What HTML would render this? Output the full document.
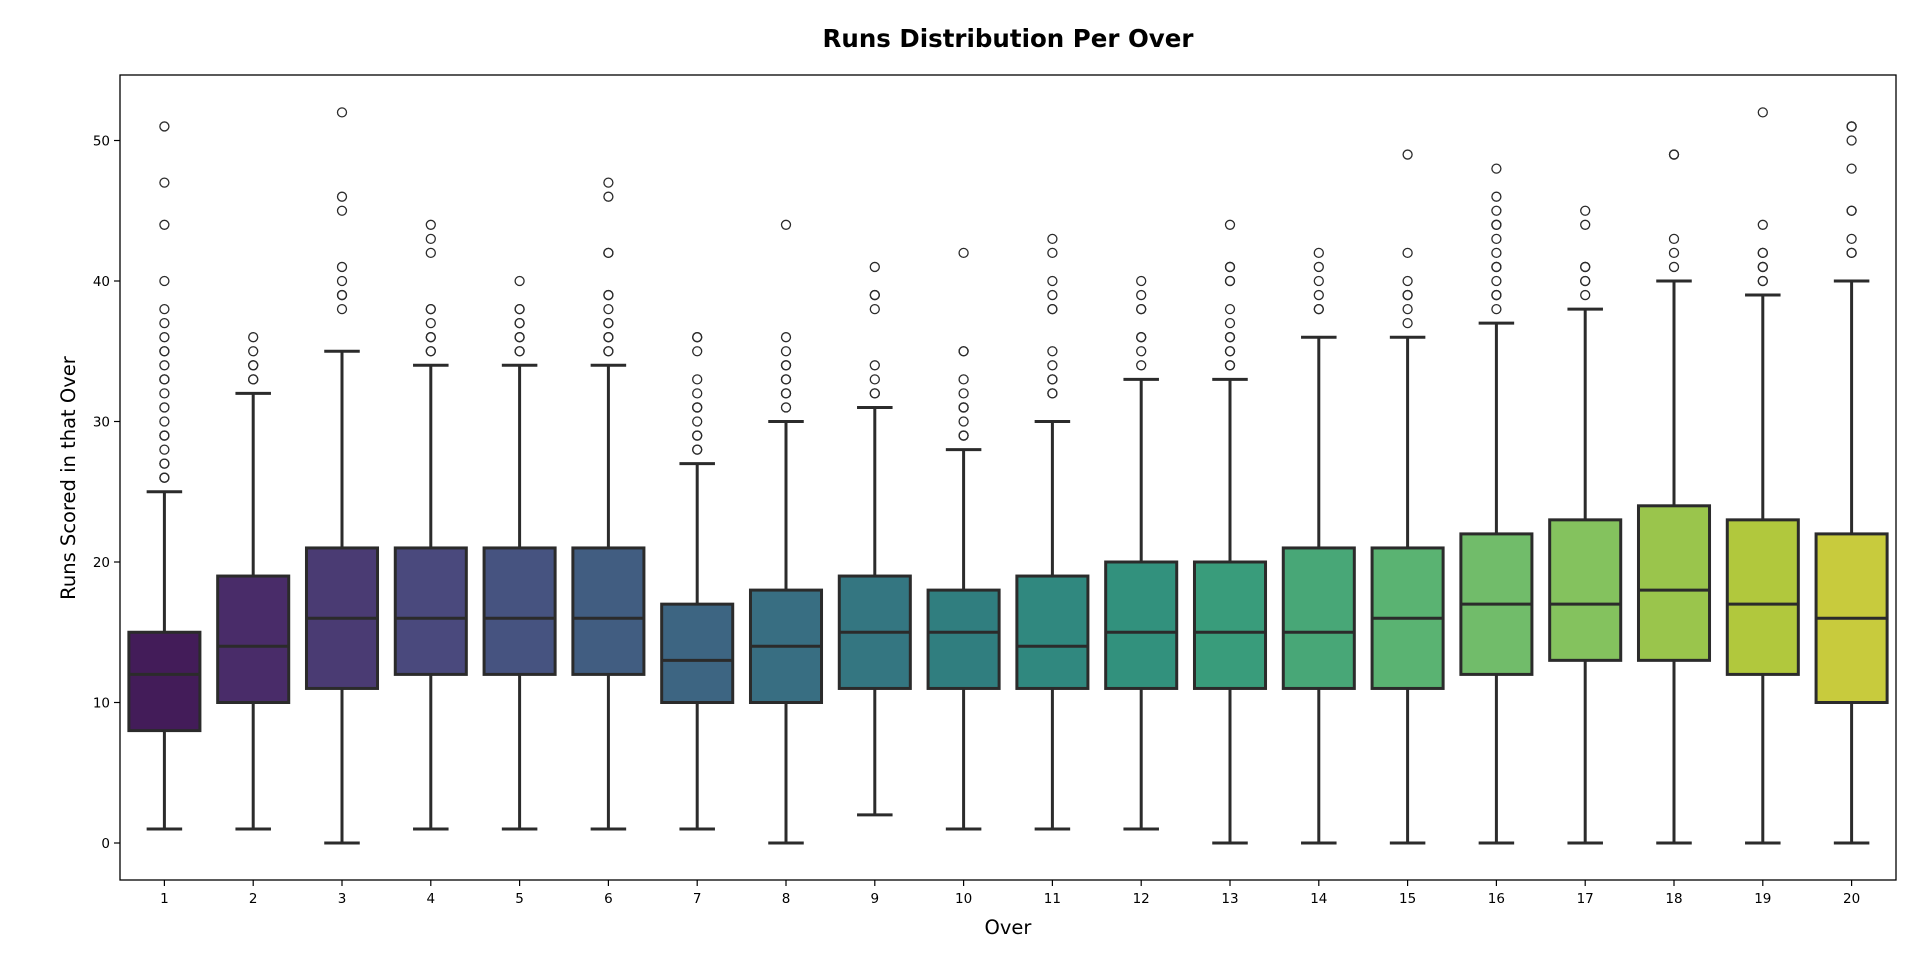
<!DOCTYPE html>
<html><head><meta charset="utf-8"><style>
html,body{margin:0;padding:0;background:#fff;}
svg{display:block;font-family:"DejaVu Sans","Liberation Sans",sans-serif;}
</style></head><body>
<svg id="chart" width="1920" height="967">
<text x="1008" y="47" text-anchor="middle" font-size="24.5" font-weight="bold">Runs Distribution Per Over</text>
<text x="1008" y="934" text-anchor="middle" font-size="19.5">Over</text>
<text transform="translate(75,478) rotate(-90)" text-anchor="middle" font-size="19.5">Runs Scored in that Over</text>
<g id="plot"></g>
<rect x="120" y="75" width="1776" height="805" fill="none" stroke="#000" stroke-width="1.3"/>
</svg>
<script>
const overs=[1,2,3,4,5,6,7,8,9,10,11,12,13,14,15,16,17,18,19,20];
const q1=[8,10,11,12,12,12,10,10,11,11,11,11,11,11,11,12,13,13,12,10];
const medians=[12,14,16,16,16,16,13,14,15,15,14,15,15,15,16,17,17,18,17,16];
const q3=[15,19,21,21,21,21,17,18,19,18,19,20,20,21,21,22,23,24,23,22];
const whiskerLow=[1,1,0,1,1,1,1,0,2,1,1,1,0,0,0,0,0,0,0,0];
const whiskerHigh=[25,32,35,34,34,34,27,30,31,28,30,33,33,36,36,37,38,40,39,40];
const outliers=[
[26,26,27,27,28,29,29,30,31,32,33,33,34,35,35,36,37,38,40,44,47,51],
[33,33,34,34,35,36],
[38,39,39,40,41,45,46,52],
[35,35,36,36,37,38,38,42,43,44],
[35,35,36,36,37,37,38,38,40],
[35,35,36,36,37,37,38,39,39,42,42,46,47],
[28,28,29,29,30,31,31,32,33,35,36,36],
[31,32,32,33,33,34,34,35,36,44],
[32,32,33,34,38,39,39,41],
[29,29,30,31,31,32,33,35,35,42],
[32,32,33,33,34,35,38,38,39,40,42,43],
[34,35,36,36,38,38,39,40],
[34,34,35,35,36,36,37,38,40,40,41,41,44],
[38,38,39,40,41,42],
[37,38,39,39,40,42,49],
[38,39,39,40,41,41,42,43,44,44,45,46,48],
[39,40,40,41,41,44,45],
[41,42,43,49,49],
[40,40,41,41,42,42,44,52],
[42,42,43,45,45,48,50,51,51]];
const yTicks=[0,10,20,30,40,50];

const L=120,R=1896,T=75,B=880;
const step=(R-L)/overs.length;
const xS=i=>L+step*(i+0.5);
const yS=v=>843-v*14.05;
const ns="http://www.w3.org/2000/svg";
const g=document.getElementById('plot');
function mk(t,a){const e=document.createElementNS(ns,t);for(const k in a)e.setAttribute(k,a[k]);return e;}
const vir=["#440154","#482475","#414487","#355f8d","#2a788e","#21918c","#22a884","#44bf70","#7ad151","#bddf26","#fde725"];
function hx(h){return [1,3,5].map(i=>parseInt(h.substr(i,2),16)/255);}
function viridis(t){const p=t*10,i=Math.min(9,Math.floor(p)),f=p-i;const a=hx(vir[i]),b=hx(vir[i+1]);return a.map((v,k)=>v+(b[k]-v)*f);}
function desat(rgb,s){const mx=Math.max(...rgb),mn=Math.min(...rgb);const l=(mx+mn)/2;let h=0,sat=0;
 if(mx!==mn){const d=mx-mn;sat=l>0.5?d/(2-mx-mn):d/(mx+mn);
 if(mx===rgb[0])h=((rgb[1]-rgb[2])/d+(rgb[1]<rgb[2]?6:0));else if(mx===rgb[1])h=(rgb[2]-rgb[0])/d+2;else h=(rgb[0]-rgb[1])/d+4;h/=6;}
 sat*=s;const q=l<0.5?l*(1+sat):l+sat-l*sat,p=2*l-q;
 const f=t=>{if(t<0)t+=1;if(t>1)t-=1;if(t<1/6)return p+(q-p)*6*t;if(t<1/2)return q;if(t<2/3)return p+(q-p)*(2/3-t)*6;return p;};
 return [f(h+1/3),f(h),f(h-1/3)];}
function css(c){return "rgb("+c.map(v=>Math.round(v*255)).join(",")+")";}
const ink="#2b2b2b";
yTicks.forEach(v=>{
 const t=mk('line',{x1:L-6,x2:L,y1:yS(v),y2:yS(v),stroke:'#000','stroke-width':1.2});
 
 
 g.appendChild(t);
 const lb=mk('text',{x:L-10,y:yS(v)+5,'text-anchor':'end','font-size':13.5});
 
 
 lb.textContent=v;g.appendChild(lb);
});
overs.forEach((o,i)=>{
 const x=xS(i);
 const t=mk('line',{x1:x,x2:x,y1:B,y2:B+6,stroke:'#000','stroke-width':1.2});
 
 
 g.appendChild(t);
 const lb=mk('text',{x:x,y:B+23,'text-anchor':'middle','font-size':13.5});
 
 
 lb.textContent=o;g.appendChild(lb);
 const grp=mk('g',{});
 
 
 g.appendChild(grp);
 const bw=step*0.8,cw=step*0.4;
 const col=css(desat(viridis((i+1)/(overs.length+1)),0.75));
 const w1=mk('line',{x1:x,x2:x,y1:yS(whiskerLow[i]),y2:yS(q1[i]),stroke:ink,'stroke-width':3});
 
 
 grp.appendChild(w1);
 const w2=mk('line',{x1:x,x2:x,y1:yS(q3[i]),y2:yS(whiskerHigh[i]),stroke:ink,'stroke-width':3});
 
 
 grp.appendChild(w2);
 [whiskerLow[i],whiskerHigh[i]].forEach(v=>{
  const c=mk('line',{x1:x-cw/2,x2:x+cw/2,y1:yS(v),y2:yS(v),stroke:ink,'stroke-width':3});
  
  
  grp.appendChild(c);
 });
 const r=mk('rect',{x:x-bw/2,y:yS(q3[i]),width:bw,height:yS(q1[i])-yS(q3[i]),fill:col,stroke:ink,'stroke-width':3});
 
 
 grp.appendChild(r);
 const m=mk('line',{x1:x-bw/2,x2:x+bw/2,y1:yS(medians[i]),y2:yS(medians[i]),stroke:ink,'stroke-width':3});
 
 
 grp.appendChild(m);
 outliers[i].forEach(v=>{
  const c=mk('circle',{cx:x,cy:yS(v),r:4.5,fill:'none',stroke:ink,'stroke-width':1.3});
  
  
  grp.appendChild(c);
 });
});
</script>
</body></html>
